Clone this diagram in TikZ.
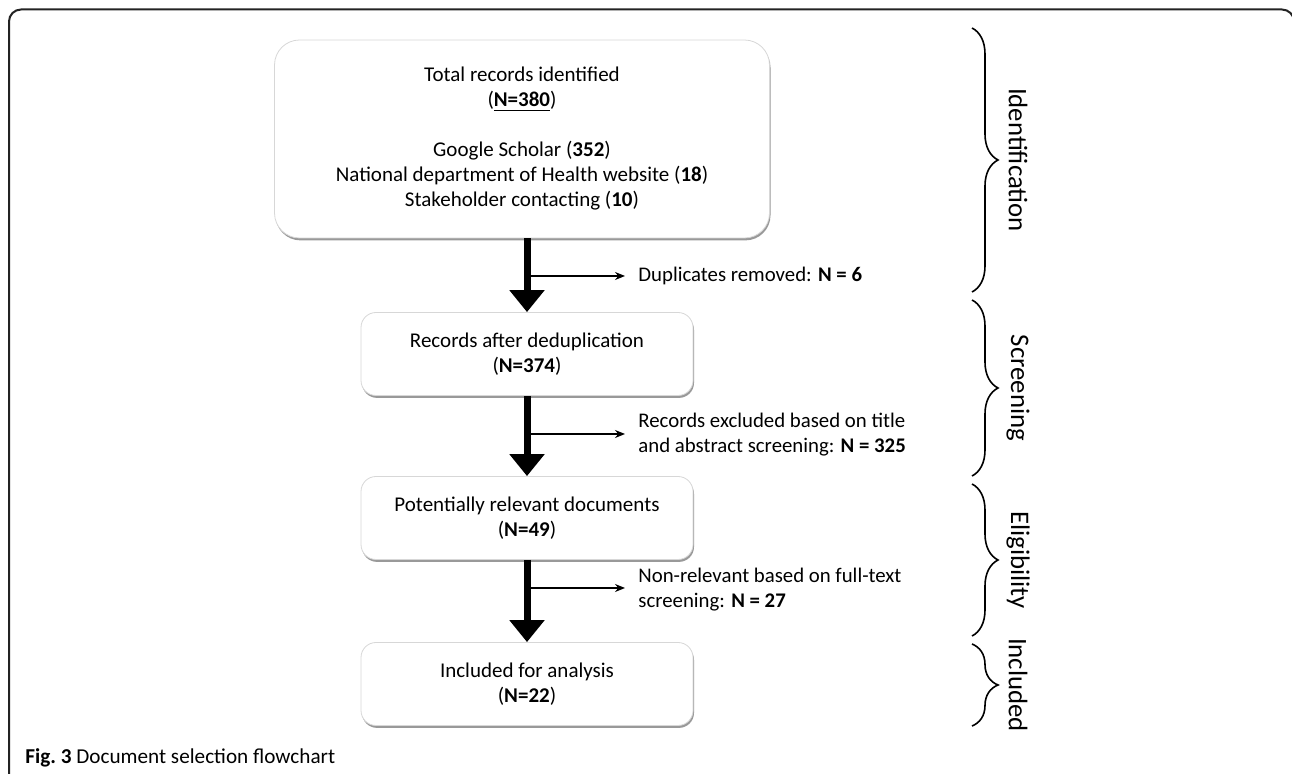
\documentclass[tikz,border=0pt]{standalone}
\usepackage{fontspec}
\setmainfont{Carlito}
\usetikzlibrary{positioning, arrows.meta, shadows, decorations.pathreplacing}
\definecolor{boxline}{RGB}{215,215,215}
\definecolor{boxshadow}{RGB}{110,110,110}
\definecolor{framecolor}{RGB}{35,35,35}

\begin{document}
\begin{tikzpicture}[x=0.5pt, y=-0.5pt]
  \tikzset{
    stage/.style={
      draw=boxline,
      fill=white,
      rounded corners=7.5pt,
      minimum width=166pt,
      minimum height=41.5pt,
      align=center,
      font=\fontsize{10.5}{12.5}\selectfont,
      drop shadow={shadow xshift=0.5pt, shadow yshift=-1.2pt, fill=boxshadow, opacity=0.7}
    },
    note/.style={anchor=west, inner sep=0pt, align=left, font=\fontsize{10.4}{12.5}\selectfont},
    bigarrow/.style={line width=3.5pt, -{Triangle[width=17pt, length=11pt]}},
    sidearrow/.style={line width=0.7pt, -{Stealth[length=5pt, width=4pt]}, shorten >=6.5pt},
    phase/.style={decorate, decoration={brace, amplitude=13pt}, line width=0.8pt},
    phaselabel/.style={rotate=-90, inner sep=0pt, font=\fontsize{13.4}{15}\selectfont}
  }
  \useasboundingbox (0,0) rectangle (1292,774);

  % outer frame
  \draw[framecolor, line width=1pt, rounded corners=6pt] (9,800) -- (9,9.5) -- (1294,9.5) -- (1294,100);

  % Boxes
  \node[stage, minimum width=247.5pt, minimum height=99pt, rounded corners=12.5pt] (total) at (522, 139)
    {Total records identified\\(\underline{\textbf{N=380}})\\[12.5pt]
     Google Scholar (\textbf{352})\\National department of Health website (\textbf{18})\\Stakeholder contacting (\textbf{10})};
  \node[stage] (dedup) at (527, 354) {Records after deduplication\\(\textbf{N=374})};
  \node[stage] (relevant) at (527, 518) {Potentially relevant documents\\(\textbf{N=49})};
  \node[stage] (included) at (527, 684) {Included for analysis\\(\textbf{N=22})};

  % Exclusion notes
  \node[note] (dup) at (638, 276) {Duplicates removed: \textbf{N = 6}};
  \node[note] (excl) at (638, 435) {Records excluded based on title\\and abstract screening: \textbf{N = 325}};
  \node[note] (nonrel) at (638, 590) {Non-relevant based on full-text\\screening: \textbf{N = 27}};

  % Main flow
  \draw[bigarrow] (total.south -| dedup.north) -- (dedup.north);
  \draw[bigarrow] (dedup.south) -- (relevant.north);
  \draw[bigarrow] (relevant.south) -- (included.north);

  % Side arrows
  \coordinate (s1) at (527, 276);
  \coordinate (s2) at (527, 434);
  \coordinate (s3) at (527, 588);
  \draw[sidearrow] (s1) -- (s1 -| dup.west);
  \draw[sidearrow] (s2) -- (s2 -| excl.west);
  \draw[sidearrow] (s3) -- (s3 -| nonrel.west);

  % Phases
  \draw[phase] (972, 28) -- (972, 292);
  \draw[phase] (972, 300) -- (972, 476);
  \draw[phase] (972, 484) -- (972, 636);
  \draw[phase] (972, 644) -- (972, 726);
  \node[phaselabel] (ident) at (1018, 160) {Identification};
  \node[phaselabel] (screen) at (1018, 388) {Screening};
  \node[phaselabel] (elig) at (1018, 560) {Eligibility};
  \node[phaselabel] (incl) at (1018, 685) {Included};

  % Caption
  \node[anchor=west, inner sep=0pt, font=\fontsize{10.6}{12}\selectfont] (caption) at (25, 758)
    {\textbf{Fig.\ 3} Document selection flowchart};
\end{tikzpicture}
\end{document}
